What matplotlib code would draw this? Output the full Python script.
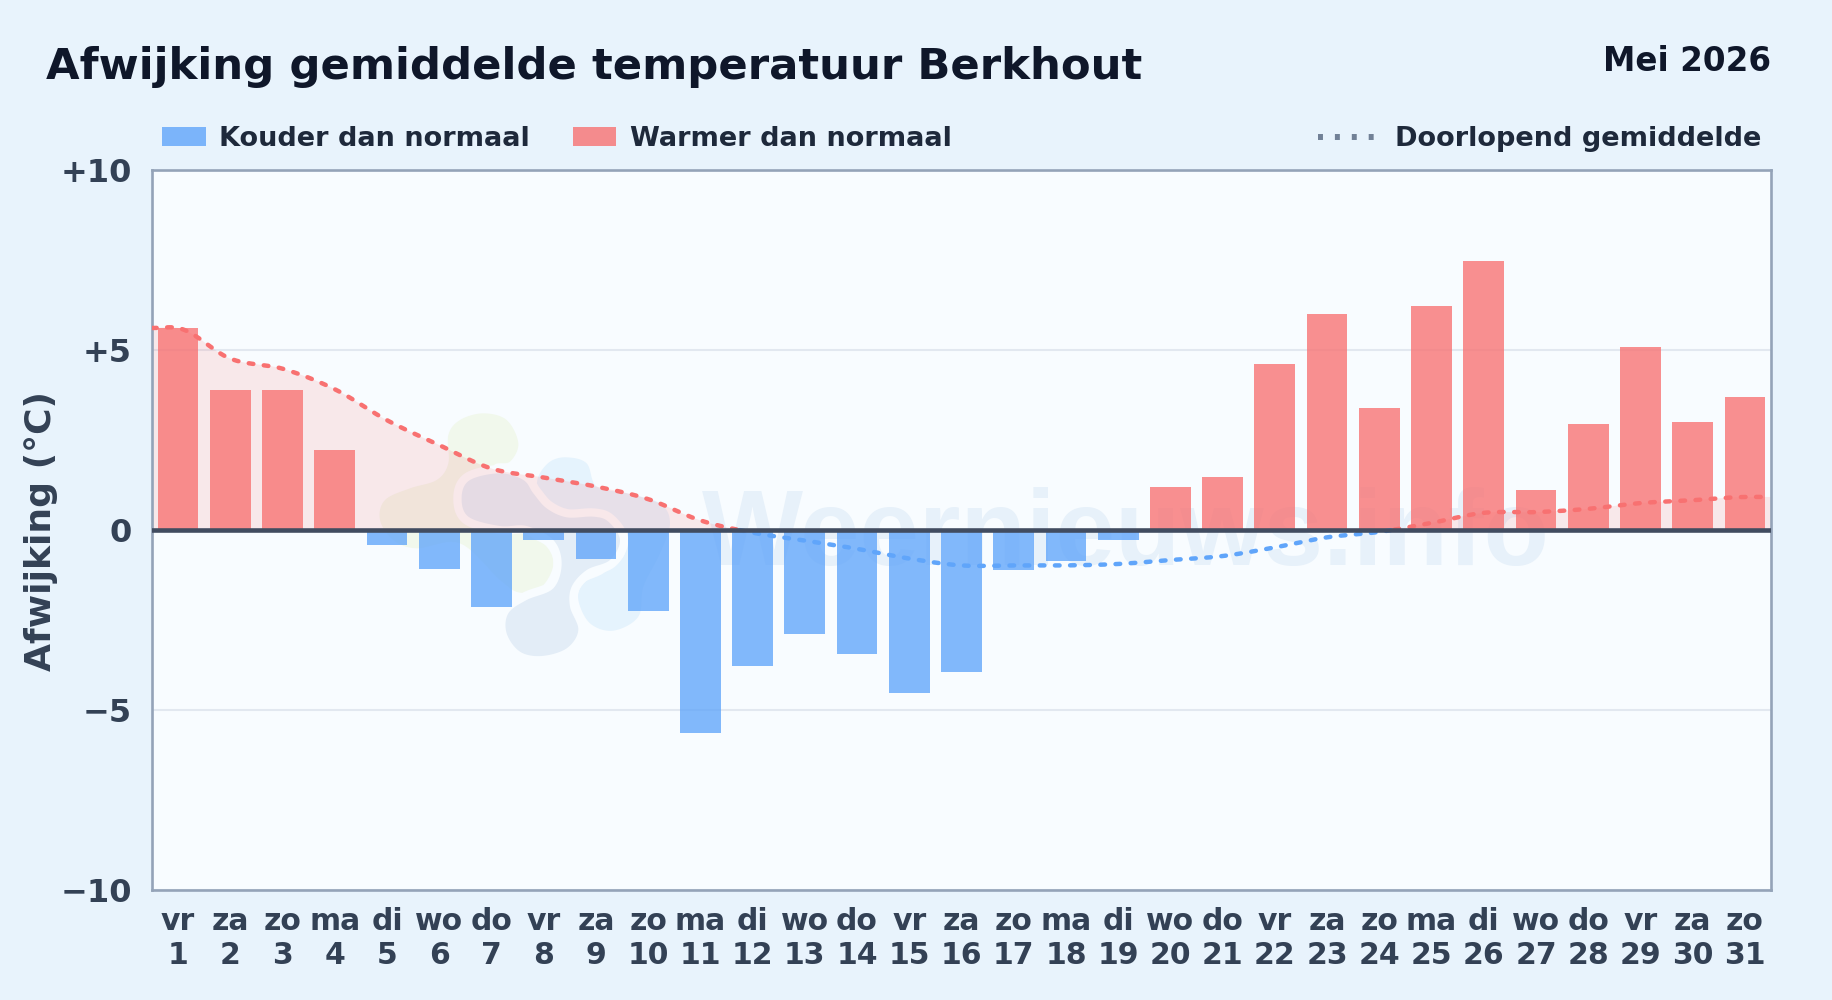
import matplotlib
matplotlib.use("Agg")
import matplotlib.pyplot as plt
import numpy as np
from matplotlib.lines import Line2D
from matplotlib.patches import Polygon, Rectangle

W, H = 1832, 1000
L, R, T, B = 152, 1771, 169.5, 890

days = list(range(1, 32))
weekdays = ["vr", "za", "zo", "ma", "di", "wo", "do", "vr", "za", "zo", "ma",
            "di", "wo", "do", "vr", "za", "zo", "ma", "di", "wo", "do", "vr",
            "za", "zo", "ma", "di", "wo", "do", "vr", "za", "zo"]
deviation = [5.6, 3.87, 3.87, 2.2, -0.42, -1.1, -2.15, -0.28, -0.8, -2.25, -5.63,
             -3.78, -2.9, -3.45, -4.52, -3.95, -1.13, -0.88, -0.28, 1.2, 1.47, 4.6,
             6.0, 3.37, 6.2, 7.45, 1.1, 2.93, 5.08, 3.0, 3.68]
running_mean = [5.6, 4.75, 4.47, 3.9, 3.04, 2.35, 1.7, 1.45, 1.2, 0.85, 0.26,
                -0.08, -0.3, -0.53, -0.8, -0.99, -0.99, -0.99, -0.95, -0.84,
                -0.73, -0.49, -0.21, -0.06, 0.19, 0.47, 0.49, 0.58, 0.74,
                0.82, 0.91]
y_ticks = [-10, -5, 0, 5, 10]
y_labels = ["\u221210", "\u22125", "0", "+5", "+10"]

logo_green = [(300, 60), (370, 40), (440, 60), (475, 130), (450, 185), (400, 200),
              (420, 300), (500, 400), (560, 440), (580, 495), (545, 560), (480, 578),
              (420, 540), (300, 430), (170, 445), (100, 420), (60, 360), (75, 300),
              (150, 265), (230, 240), (265, 190), (265, 105)]
logo_blue = [(535, 230), (570, 185), (620, 172), (680, 190), (710, 260), (800, 280),
             (900, 310), (930, 370), (900, 460), (850, 560), (835, 650), (760, 692),
             (690, 670), (655, 600), (670, 550), (730, 520), (790, 470), (790, 420),
             (760, 370), (700, 335), (620, 350), (570, 330), (535, 280)]
logo_slate = [(700, 350), (620, 352), (560, 325), (520, 280), (490, 240), (420, 220),
              (330, 240), (305, 290), (325, 350), (420, 378), (500, 378), (580, 420),
              (605, 490), (580, 565), (500, 600), (445, 640), (440, 700), (480, 755),
              (545, 768), (620, 745), (655, 690), (630, 620), (635, 560), (680, 510),
              (750, 480), (780, 420), (745, 365)]

BG = "#e8f3fc"
PLOT_BG = "#f8fcff"
BLUE = "#60a5fa"
RED = "#f87171"
INK = "#0f172a"
INK2 = "#1e293b"
SLATE = "#334155"


def fx(px):
    return px / W


def fy(py):
    return 1 - py / H


def smooth(x, y, n=24):
    """Cubic Hermite through the points, so the line bends like the original."""
    x, y = np.asarray(x, float), np.asarray(y, float)
    m = np.gradient(y, x)
    out_x, out_y = [], []
    for i in range(len(x) - 1):
        h = x[i + 1] - x[i]
        t = np.linspace(0, 1, n, endpoint=False)
        out_x.append(x[i] + t * h)
        out_y.append((2*t**3 - 3*t**2 + 1) * y[i] + (t**3 - 2*t**2 + t) * h * m[i]
                     + (-2*t**3 + 3*t**2) * y[i + 1] + (t**3 - t**2) * h * m[i + 1])
    return np.r_[np.concatenate(out_x), x[-1]], np.r_[np.concatenate(out_y), y[-1]]


def blob(points, n=10):
    """Closed Catmull-Rom outline, crop coordinates -> figure pixels."""
    p = np.array(points, float)
    out = []
    for i in range(len(p)):
        p0, p1, p2, p3 = p[i - 1], p[i], p[(i + 1) % len(p)], p[(i + 2) % len(p)]
        for t in np.linspace(0, 1, n, endpoint=False):
            out.append(0.5 * (2 * p1 + (p2 - p0) * t + (2*p0 - 5*p1 + 4*p2 - p3) * t**2
                              + (3*p1 - p0 - 3*p2 + p3) * t**3))
    out = np.array(out)
    return np.c_[360 + out[:, 0] / 3, 400 + out[:, 1] / 3]


fig = plt.figure(figsize=(W / 100, H / 100), dpi=100, facecolor=BG)
plt.rcParams["font.family"] = "DejaVu Sans"

# ---- watermark, in pixel coordinates under the chart ----
wm = fig.add_axes([fx(L), fy(B), fx(R - L), (B - T) / H], zorder=0)
wm.set_xlim(L, R)
wm.set_ylim(B, T)
wm.set_facecolor(PLOT_BG)
wm.set_xticks([])
wm.set_yticks([])
for s in wm.spines.values():
    s.set_visible(False)
wm.add_patch(Polygon(blob(logo_green), closed=True, facecolor="#f1f8ec", edgecolor="none"))
wm.add_patch(Polygon(blob(logo_blue), closed=True, facecolor="#e5f3fd", edgecolor="none"))
# pale halo first, then the fill on top so the halo only grows outwards
wm.add_patch(Polygon(blob(logo_slate), closed=True, facecolor=PLOT_BG,
                     edgecolor=PLOT_BG, lw=12, joinstyle="round"))
wm.add_patch(Polygon(blob(logo_slate), closed=True, facecolor="#e3edf7", edgecolor="none"))
wm.text(702, 565, "Weernieuws.info", fontsize=77, fontweight="bold",
        family="Liberation Sans", color="#e7f1fa", ha="left", va="baseline")

# ---- chart ----
ax = fig.add_axes([fx(L), fy(B), fx(R - L), (B - T) / H], zorder=1)
ax.patch.set_visible(False)
ax.set_xlim(0.5, 31.5)
ax.set_ylim(-10, 10)

ax.set_axisbelow(True)
ax.yaxis.grid(True, color="#e2e8f0", lw=1.5)
ax.xaxis.grid(False)

colors = [RED if v >= 0 else BLUE for v in deviation]
ax.bar(days, deviation, width=0.78, color=colors, alpha=0.78, lw=0, zorder=2)

# running mean runs out to both plot edges
line_x = [0.5] + days + [31.5]
line_y = [running_mean[0]] + running_mean + [running_mean[-1]]
sx, sy = smooth(line_x, line_y)
ax.fill_between(sx, 0, sy, where=sy >= 0, color=RED, alpha=0.14, lw=0, zorder=1.5)
dash = (0, (1.05, 2.36))
ax.plot(sx, np.where(sy >= 0, sy, np.nan), color=RED, lw=3.2, ls=dash,
        dash_capstyle="round", zorder=3)
ax.plot(sx, np.where(sy < 0, sy, np.nan), color=BLUE, lw=3.2, ls=dash,
        dash_capstyle="round", zorder=3)

ax.axhline(0, color="#414c60", lw=3.3, zorder=4)

for s in ax.spines.values():
    s.set_color("#94a3b8")
    s.set_linewidth(1.9)

ax.set_yticks(y_ticks)
ax.set_yticklabels(y_labels, fontsize=23, fontweight="bold", color=SLATE)
ax.set_xticks(days)
ax.set_xticklabels([f"{w}\n{d}" for w, d in zip(weekdays, days)], fontsize=21.5,
                   fontweight="bold", color=SLATE, linespacing=1.22)
ax.tick_params(axis="both", length=0)
ax.tick_params(axis="y", pad=14.5)
ax.tick_params(axis="x", pad=12)

# ---- titles and legend ----
fig.text(fx(46), fy(79.5), "Afwijking gemiddelde temperatuur Berkhout", fontsize=31.2,
         fontweight="bold", color=INK, ha="left", va="baseline")
fig.text(fx(1771), fy(71), "Mei 2026", fontsize=23.5, fontweight="bold", color=INK,
         ha="right", va="baseline")
fig.text(fx(41), fy(531), "Afwijking (\u00b0C)", fontsize=26, fontweight="bold",
         color=SLATE, rotation=90, ha="center", va="center")

fig.add_artist(Rectangle((fx(162), fy(146)), fx(44), 19 / H, transform=fig.transFigure,
                         color=BLUE, alpha=0.8, lw=0))
fig.add_artist(Rectangle((fx(573), fy(146)), fx(43), 19 / H, transform=fig.transFigure,
                         color=RED, alpha=0.8, lw=0))
fig.text(fx(219), fy(146), "Kouder dan normaal", fontsize=19.5, fontweight="bold",
         color=INK2, ha="left", va="baseline")
fig.text(fx(630), fy(146), "Warmer dan normaal", fontsize=19.5, fontweight="bold",
         color=INK2, ha="left", va="baseline")
fig.add_artist(Line2D([fx(1318), fx(1374)], [fy(137), fy(137)], transform=fig.transFigure,
                      color="#64748b", alpha=0.9, lw=4.3, ls=(0, (0.83, 2))))
fig.text(fx(1761), fy(146), "Doorlopend gemiddelde", fontsize=19.5, fontweight="bold",
         color=INK2, ha="right", va="baseline")

fig.savefig("out.png", dpi=100, facecolor=BG)
